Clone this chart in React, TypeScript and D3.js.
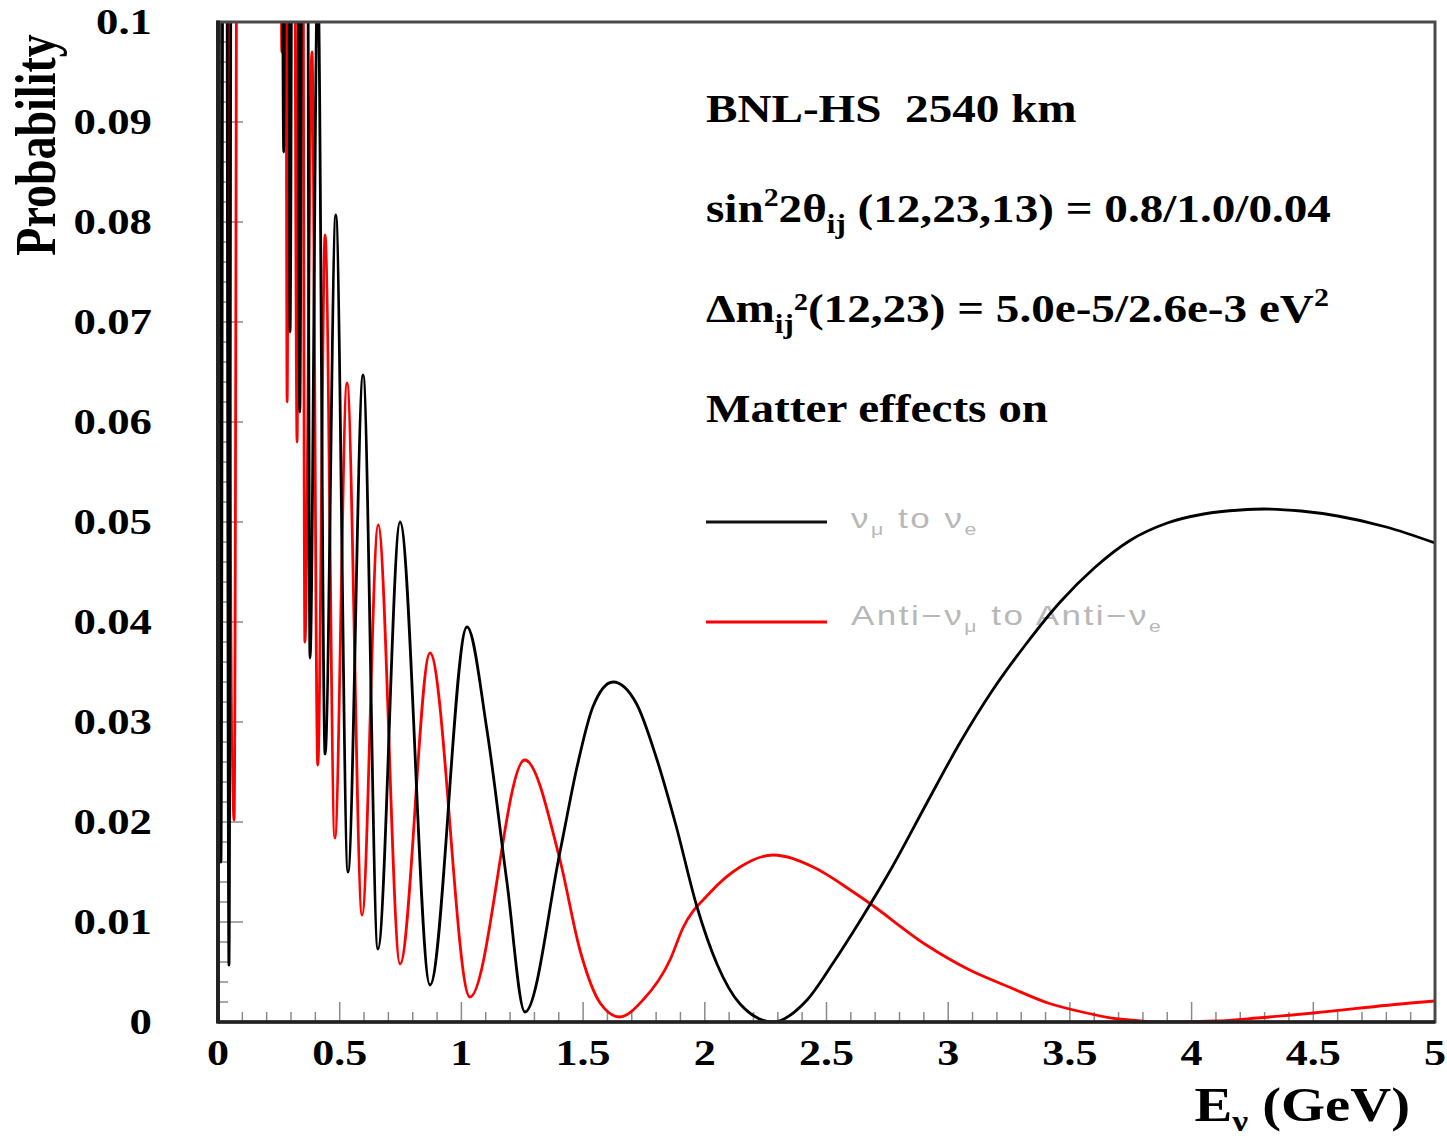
import React from "react";
import * as d3 from "d3";

// ---- data ----
const numuE = [0.0, 0.012, 0.028, 0.045, 0.062, 0.25, 0.27, 0.283, 0.296, 0.316, 0.336, 0.357, 0.378, 0.41, 0.44, 0.484, 0.534, 0.596, 0.657, 0.748, 0.871, 1.023, 1.105, 1.187, 1.261, 1.405, 1.475, 1.54, 1.623, 1.72, 1.8, 1.88, 1.968, 2.05, 2.145, 2.28, 2.42, 2.527, 2.64, 2.77, 2.91, 3.05, 3.18, 3.32, 3.46, 3.6, 3.75, 3.9, 4.05, 4.2, 4.3, 4.45, 4.6, 4.8, 5.0];
const numuP = [0.25, 0.016, 0.25, 0.0057, 0.25, 0.25, 0.087, 0.25, 0.069, 0.25, 0.061, 0.25, 0.0364, 0.105, 0.0268, 0.0807, 0.015, 0.0647, 0.0073, 0.05, 0.0037, 0.0395, 0.0292, 0.014, 0.001, 0.017, 0.0255, 0.0315, 0.034, 0.0318, 0.0265, 0.0198, 0.0115, 0.0058, 0.0018, 0.0, 0.0022, 0.0059, 0.0102, 0.0155, 0.0218, 0.028, 0.0331, 0.0378, 0.042, 0.0454, 0.0482, 0.0499, 0.0508, 0.0512, 0.0513, 0.0511, 0.0506, 0.0495, 0.0479];

const antiE = [0.02, 0.066, 0.09, 0.25, 0.262, 0.273, 0.284, 0.3, 0.325, 0.34, 0.357, 0.386, 0.41, 0.44, 0.48, 0.53, 0.592, 0.658, 0.748, 0.871, 1.035, 1.26, 1.405, 1.487, 1.57, 1.65, 1.746, 1.857, 1.91, 2.02, 2.145, 2.28, 2.445, 2.61, 2.67, 2.91, 3.08, 3.25, 3.41, 3.55, 3.7, 3.9, 4.1, 4.27, 4.5, 4.9, 5.0];
const antiP = [0.25, 0.0202, 0.25, 0.25, 0.097, 0.25, 0.062, 0.25, 0.058, 0.25, 0.038, 0.097, 0.0257, 0.0787, 0.0184, 0.0639, 0.0107, 0.0497, 0.0058, 0.0369, 0.0025, 0.0262, 0.0162, 0.0072, 0.0019, 0.0005, 0.0022, 0.0062, 0.0094, 0.0129, 0.0155, 0.0167, 0.0155, 0.013, 0.012, 0.0077, 0.0053, 0.0035, 0.0019, 0.001, 0.0003, 0.0, 0.0001, 0.0004, 0.0009, 0.0019, 0.0021];

const xTickValues = [0, 0.5, 1, 1.5, 2, 2.5, 3, 3.5, 4, 4.5, 5];
const xTickLabels = ["0", "0.5", "1", "1.5", "2", "2.5", "3", "3.5", "4", "4.5", "5"];
const yTickValues = [0, 0.01, 0.02, 0.03, 0.04, 0.05, 0.06, 0.07, 0.08, 0.09, 0.1];
const yTickLabels = ["0", "0.01", "0.02", "0.03", "0.04", "0.05", "0.06", "0.07", "0.08", "0.09", "0.1"];

const seriesNames = ["\u03bd", "Anti\u2212\u03bd"];

const W = 1447;
const H = 1139;
const L = 218, R = 1435, T = 22, B = 1022;

const serif = "'Liberation Serif', 'Times New Roman', serif";
const sans = "'Liberation Sans', 'DejaVu Sans', sans-serif";

function Stretch({ x, y, sx, anchor = "start", size, family = serif, weight = "bold", fill = "#000", rotate = 0, spacing = 0, children }: any) {
  const tr = `translate(${x},${y}) scale(${sx},1)` + (rotate ? ` rotate(${rotate})` : "");
  return (
    <text transform={tr} textAnchor={anchor} fontSize={size} fontFamily={family} fontWeight={weight} fill={fill} letterSpacing={spacing}>
      {children}
    </text>
  );
}

export default function App() {
  const x = d3.scaleLinear().domain([0, 5]).range([L, R]);
  const y = d3.scaleLinear().domain([0, 0.1]).range([B, T]);

  const numu = numuE.map((e, i) => [e, numuP[i]] as [number, number]);
  const anti = antiE.map((e, i) => [e, antiP[i]] as [number, number]);

  const line = d3
    .line<[number, number]>()
    .x((d) => x(d[0]))
    .y((d) => y(d[1]))
    .curve(d3.curveMonotoneX);

  const xMinor = d3.range(0, 51).map((i) => i / 10);
  const yMinor = d3.range(0, 51).map((i) => i * 0.002);

  return (
    <svg width={W} height={H} style={{ position: "absolute", left: 0, top: 0, background: "#fff" }}>
      <defs>
        <clipPath id="plot">
          <rect x={L} y={T} width={R - L} height={B - T} />
        </clipPath>
      </defs>
      <rect x={0} y={0} width={W} height={H} fill="#fff" />

      {/* ticks */}
      {yMinor.map((v, i) => (
        <line key={"ym" + i} x1={L} x2={L + (i % 5 === 0 ? 25 : 10)} y1={y(v)} y2={y(v)} stroke="#8a8a8a" strokeWidth={1.5} />
      ))}
      {xMinor.map((v, i) => (
        <line key={"xm" + i} x1={x(v)} x2={x(v)} y1={B} y2={B - (i % 5 === 0 ? 20 : 10)} stroke="#8a8a8a" strokeWidth={1.5} />
      ))}

      {/* info text */}
      <Stretch x={706} y={122} sx={1.15} size={41}>BNL-HS{"\u00a0\u00a0"}2540 km</Stretch>
      <Stretch x={706} y={222} sx={1.15} size={41}>
        sin<tspan dy={-16} fontSize={26}>2</tspan>
        <tspan dy={16}>2θ</tspan>
        <tspan dy={11} fontSize={27}>ij</tspan>
        <tspan dy={-11}> (12,23,13) = 0.8/1.0/0.04</tspan>
      </Stretch>
      <Stretch x={706} y={322} sx={1.15} size={41}>
        Δm<tspan dy={11} fontSize={27}>ij</tspan>
        <tspan dy={-11}>²(12,23) = 5.0e-5/2.6e-3 eV</tspan>
        <tspan dy={-16} fontSize={26}>2</tspan>
      </Stretch>
      <Stretch x={706} y={422} sx={1.15} size={41}>Matter effects on</Stretch>

      {/* legend */}
      <line x1={706} x2={827} y1={522} y2={522} stroke="#111" strokeWidth={3} />
      <line x1={706} x2={827} y1={622} y2={622} stroke="#ff0000" strokeWidth={3} />
      <Stretch x={851} y={528} sx={1.25} size={28} family={sans} weight="normal" fill="#b8b8b8" spacing={2}>
        {seriesNames[0]}
        <tspan dy={7} fontSize={17}>μ</tspan>
        <tspan dy={-7}> to ν</tspan>
        <tspan dy={7} fontSize={17}>e</tspan>
      </Stretch>
      <Stretch x={851} y={625} sx={1.25} size={28} family={sans} weight="normal" fill="#b8b8b8" spacing={2}>
        {seriesNames[1]}
        <tspan dy={7} fontSize={17}>μ</tspan>
        <tspan dy={-7}> to Anti−ν</tspan>
        <tspan dy={7} fontSize={17}>e</tspan>
      </Stretch>

      {/* curves */}
      <g clipPath="url(#plot)">
        <path d={line(anti) || ""} fill="none" stroke="#ff0000" strokeWidth={2.8} strokeLinejoin="round" />
        <path d={line(numu) || ""} fill="none" stroke="#000" strokeWidth={2.8} strokeLinejoin="round" />
      </g>

      {/* frame */}
      <rect x={L} y={T} width={R - L} height={B - T} fill="none" stroke="#4a4a4a" strokeWidth={3} />
      <line x1={L} x2={L} y1={T - 1.5} y2={B + 1.5} stroke="#222" strokeWidth={4} />
      <line x1={L} x2={R} y1={B} y2={B} stroke="#222" strokeWidth={3.5} />

      {/* tick labels */}
      {yTickValues.map((v, i) => (
        <Stretch key={"yl" + i} x={152} y={y(v) + 12} sx={1.28} anchor="end" size={35}>
          {yTickLabels[i]}
        </Stretch>
      ))}
      {xTickValues.map((v, i) => (
        <Stretch key={"xl" + i} x={x(v)} y={1065} sx={1.26} anchor="middle" size={35}>
          {xTickLabels[i]}
        </Stretch>
      ))}

      {/* axis titles */}
      <Stretch x={55} y={145} sx={1.25} anchor="middle" size={46} rotate={-90}>
        Probability
      </Stretch>
      <Stretch x={1410} y={1121} sx={1.18} anchor="end" size={48}>
        E<tspan dy={10} fontSize={30}>ν</tspan>
        <tspan dy={-10}> (GeV)</tspan>
      </Stretch>
    </svg>
  );
}
